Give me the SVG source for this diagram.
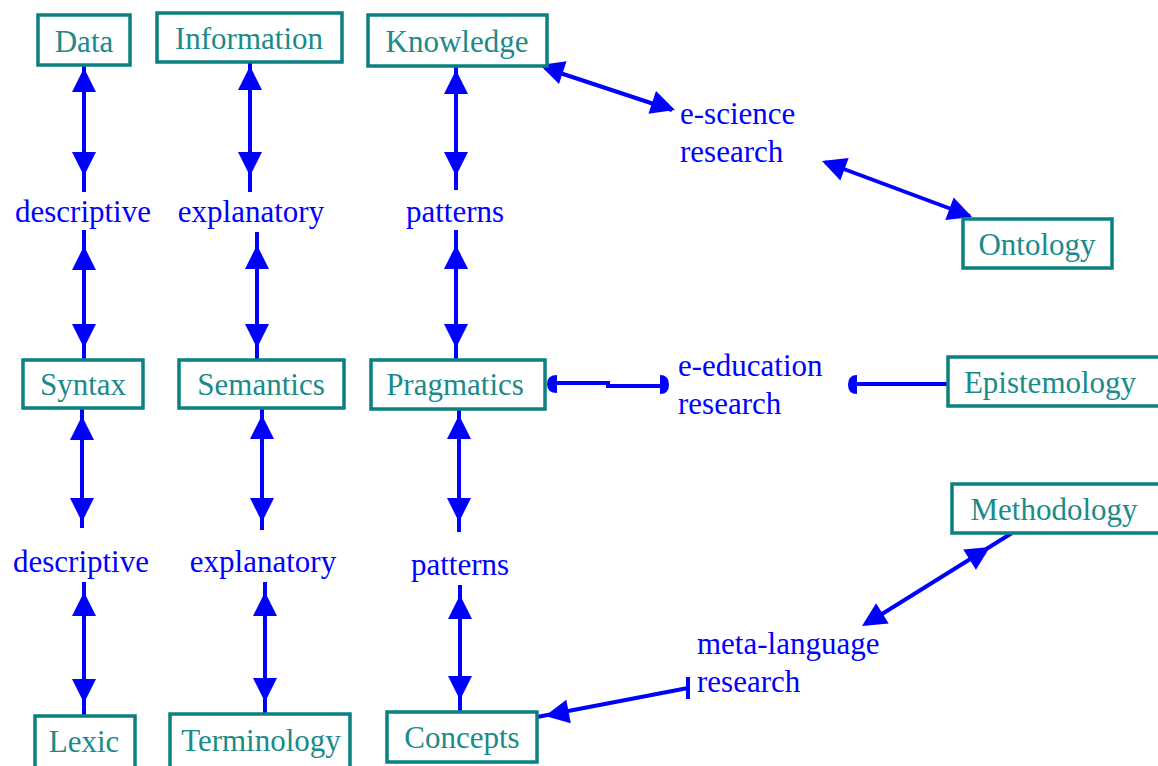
<svg xmlns="http://www.w3.org/2000/svg" xmlns:xlink="http://www.w3.org/1999/xlink" width="1158" height="766" viewBox="0 0 1158 766">
<style>
.box{fill:#fff;stroke:#0a8080;stroke-width:3.5}
.nt{font-family:"Liberation Serif",serif;font-size:31px;fill:#1a8a8a;text-anchor:middle}
.lb{font-family:"Liberation Serif",serif;font-size:31px;fill:#0000ff}
.mid{text-anchor:middle}
.ln{stroke:#0000ff;stroke-width:4;fill:none}
.hd{fill:#0000ff}
</style>
<defs>
<path id="ah" d="M0,0 L-24,-12 L-24,12 Z"/>
</defs>
<rect width="1158" height="766" fill="#fff"/>

<g id="connectors">
<!-- column 1 -->
<line class="ln" x1="84" y1="65" x2="84" y2="192"/>
<use href="#ah" class="hd" transform="translate(84,68) rotate(-90)"/>
<use href="#ah" class="hd" transform="translate(84,176) rotate(90)"/>
<line class="ln" x1="84" y1="230" x2="84" y2="360"/>
<use href="#ah" class="hd" transform="translate(84,246) rotate(-90)"/>
<use href="#ah" class="hd" transform="translate(84,348) rotate(90)"/>
<line class="ln" x1="82" y1="408" x2="82" y2="528"/>
<use href="#ah" class="hd" transform="translate(82,416) rotate(-90)"/>
<use href="#ah" class="hd" transform="translate(82,522) rotate(90)"/>
<line class="ln" x1="84" y1="582" x2="84" y2="716"/>
<use href="#ah" class="hd" transform="translate(84,592) rotate(-90)"/>
<use href="#ah" class="hd" transform="translate(84,703) rotate(90)"/>
<!-- column 2 -->
<line class="ln" x1="250" y1="62" x2="250" y2="192"/>
<use href="#ah" class="hd" transform="translate(250,66) rotate(-90)"/>
<use href="#ah" class="hd" transform="translate(250,176) rotate(90)"/>
<line class="ln" x1="257" y1="232" x2="257" y2="360"/>
<use href="#ah" class="hd" transform="translate(257,245) rotate(-90)"/>
<use href="#ah" class="hd" transform="translate(257,348) rotate(90)"/>
<line class="ln" x1="262" y1="408" x2="262" y2="530"/>
<use href="#ah" class="hd" transform="translate(262,415) rotate(-90)"/>
<use href="#ah" class="hd" transform="translate(262,522) rotate(90)"/>
<line class="ln" x1="265" y1="582" x2="265" y2="714"/>
<use href="#ah" class="hd" transform="translate(265,592) rotate(-90)"/>
<use href="#ah" class="hd" transform="translate(265,702) rotate(90)"/>
<!-- column 3 -->
<line class="ln" x1="456" y1="66" x2="456" y2="190"/>
<use href="#ah" class="hd" transform="translate(456,70) rotate(-90)"/>
<use href="#ah" class="hd" transform="translate(456,176) rotate(90)"/>
<line class="ln" x1="456" y1="230" x2="456" y2="360"/>
<use href="#ah" class="hd" transform="translate(456,245) rotate(-90)"/>
<use href="#ah" class="hd" transform="translate(456,348) rotate(90)"/>
<line class="ln" x1="459" y1="409" x2="459" y2="532"/>
<use href="#ah" class="hd" transform="translate(459,415) rotate(-90)"/>
<use href="#ah" class="hd" transform="translate(459,522) rotate(90)"/>
<line class="ln" x1="460" y1="585" x2="460" y2="712"/>
<use href="#ah" class="hd" transform="translate(460,595) rotate(-90)"/>
<use href="#ah" class="hd" transform="translate(460,700) rotate(90)"/>
<!-- Knowledge - e-science -->
<line class="ln" x1="545" y1="68" x2="672" y2="110"/>
<use href="#ah" class="hd" transform="translate(540,65) rotate(198.3)"/>
<use href="#ah" class="hd" transform="translate(675,110) rotate(18.3)"/>
<!-- e-science - Ontology -->
<line class="ln" x1="825" y1="162" x2="970" y2="216"/>
<use href="#ah" class="hd" transform="translate(822,161) rotate(200.4)"/>
<use href="#ah" class="hd" transform="translate(972,217) rotate(20.4)"/>
<!-- Pragmatics - e-education -->
<path class="ln" d="M552,383 H608 V386 H662"/>
<path class="hd" d="M557,375 V393 Q547,393 547,384 Q547,375 557,375 Z"/>
<path class="hd" d="M660,375 V394 Q669,394 669,384.5 Q669,375 660,375 Z"/>
<!-- Epistemology - e-education -->
<line class="ln" x1="948" y1="384" x2="853" y2="384"/>
<path class="hd" d="M857,375 V394 Q848,394 848,384.5 Q848,375 857,375 Z"/>
<!-- Concepts - meta-language -->
<line class="ln" x1="537" y1="717" x2="688" y2="688"/>
<use href="#ah" class="hd" transform="translate(545,716) rotate(169.1)"/>
<line class="ln" x1="688" y1="677" x2="688" y2="699"/>
<!-- Methodology - meta-language -->
<line class="ln" x1="1012" y1="533" x2="866" y2="624"/>
<use href="#ah" class="hd" transform="translate(990,547) rotate(-31.8)"/>
<use href="#ah" class="hd" transform="translate(862,626) rotate(148.2)"/>
</g>

<g id="labels">
<text class="lb mid" x="83" y="222">descriptive</text>
<text class="lb mid" x="251" y="222">explanatory</text>
<text class="lb mid" x="455" y="222">patterns</text>
<text class="lb mid" x="81" y="572">descriptive</text>
<text class="lb mid" x="263" y="572">explanatory</text>
<text class="lb mid" x="460" y="575">patterns</text>
<text class="lb" x="680" y="124">e-science</text>
<text class="lb" x="680" y="162">research</text>
<text class="lb" x="678" y="376">e-education</text>
<text class="lb" x="678" y="414">research</text>
<text class="lb" x="697" y="654">meta-language</text>
<text class="lb" x="697" y="692">research</text>
</g>

<g id="node-data"><rect class="box" x="38" y="15" width="92" height="50"/><text class="nt" x="84" y="52">Data</text></g>
<g id="node-information"><rect class="box" x="157" y="13" width="185" height="49"/><text class="nt" x="249" y="49">Information</text></g>
<g id="node-knowledge"><rect class="box" x="368" y="15" width="179" height="51"/><text class="nt" x="457" y="52">Knowledge</text></g>
<g id="node-syntax"><rect class="box" x="23" y="360" width="120" height="48"/><text class="nt" x="83" y="395">Syntax</text></g>
<g id="node-semantics"><rect class="box" x="179" y="360" width="165" height="48"/><text class="nt" x="261" y="395">Semantics</text></g>
<g id="node-pragmatics"><rect class="box" x="371" y="360" width="174" height="49"/><text class="nt" x="455" y="395">Pragmatics</text></g>
<g id="node-lexic"><rect class="box" x="35" y="716" width="100" height="52"/><text class="nt" x="84" y="752">Lexic</text></g>
<g id="node-terminology"><rect class="box" x="170" y="714" width="180" height="54"/><text class="nt" x="261" y="751">Terminology</text></g>
<g id="node-concepts"><rect class="box" x="387" y="712" width="150" height="50"/><text class="nt" x="462" y="748">Concepts</text></g>
<g id="node-ontology"><rect class="box" x="963" y="219" width="149" height="49"/><text class="nt" x="1037" y="255">Ontology</text></g>
<g id="node-epistemology"><rect class="box" x="948" y="357" width="212" height="49"/><text class="nt" x="1050" y="393">Epistemology</text></g>
<g id="node-methodology"><rect class="box" x="952" y="484" width="208" height="49"/><text class="nt" x="1054" y="520">Methodology</text></g>
</svg>
